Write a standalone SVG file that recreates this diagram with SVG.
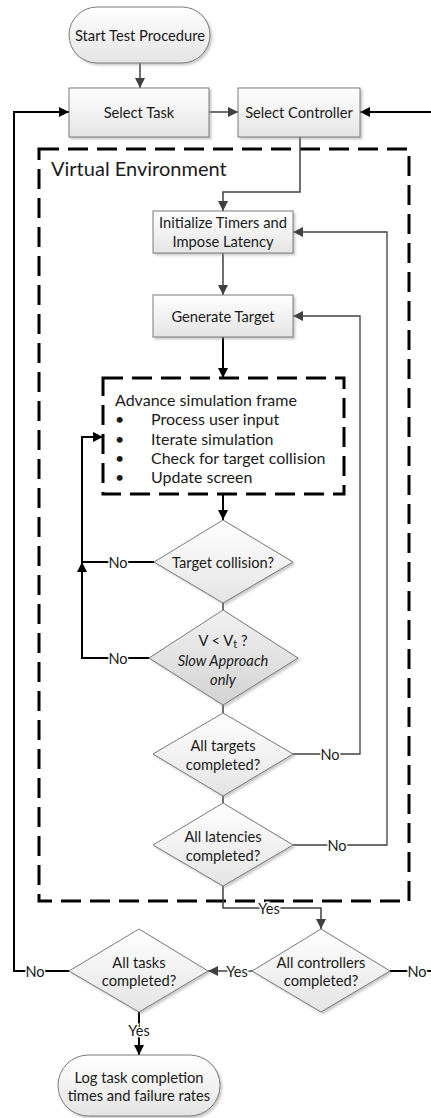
<svg xmlns="http://www.w3.org/2000/svg" width="431" height="1118" viewBox="0 0 431 1118">
  <defs>
    <linearGradient id="nodeFill" x1="0" y1="0" x2="0" y2="1">
      <stop offset="0" stop-color="#ffffff"/>
      <stop offset="1" stop-color="#e4e4e4"/>
    </linearGradient>
    <linearGradient id="nodeFillDark" x1="0" y1="0" x2="0" y2="1">
      <stop offset="0" stop-color="#f2f2f2"/>
      <stop offset="1" stop-color="#d2d2d2"/>
    </linearGradient>
    <filter id="shadow" x="-10%" y="-10%" width="125%" height="130%">
      <feDropShadow dx="2" dy="2" stdDeviation="1" flood-color="#8c8c8c" flood-opacity="0.45"/>
    </filter>
    <marker id="arrowGray" markerUnits="userSpaceOnUse" markerWidth="11" markerHeight="11" refX="10" refY="5" orient="auto">
      <path d="M0,0 L10,5 L0,10 z" fill="#404040"/>
    </marker>
    <marker id="arrowBlack" markerUnits="userSpaceOnUse" markerWidth="11" markerHeight="11" refX="10" refY="5" orient="auto">
      <path d="M0,0 L10,5 L0,10 z" fill="#000000"/>
    </marker>
  </defs>
  <style>
    .node { fill: url(#nodeFill); stroke: #7a7a7a; stroke-width: 1; filter: url(#shadow); }
    .dark { fill: url(#nodeFillDark); }
    .label { font-family: Lato, "Open Sans", sans-serif; font-size: 14.7px; fill: #1a1a1a; text-anchor: middle; dominant-baseline: central; }
    .item { font-family: Lato, "Open Sans", sans-serif; font-size: 16px; fill: #1a1a1a; dominant-baseline: central; }
    .title { font-family: Lato, "Open Sans", sans-serif; font-size: 20px; fill: #1a1a1a; }
    .boundary { fill: none; stroke: #000; stroke-width: 3; stroke-dasharray: 20 9; }
    .wire { fill: none; stroke: #404040; stroke-width: 1.5; }
    .wire-gray { fill: none; stroke: #404040; stroke-width: 1.5; marker-end: url(#arrowGray); }
    .wire-black { fill: none; stroke: #000; stroke-width: 2; marker-end: url(#arrowBlack); }
    .wire-thin { fill: none; stroke: #404040; stroke-width: 1.3; marker-end: url(#arrowGray); }
    .tag { font-family: Lato, "Open Sans", sans-serif; font-size: 14.5px; fill: #1a1a1a; text-anchor: middle; dominant-baseline: central; stroke: #ffffff; stroke-width: 3px; paint-order: stroke; }
  </style>

  <!-- Virtual environment boundary -->
  <g id="virtual-environment">
    <rect class="boundary" x="39" y="149" width="370" height="752"/>
    <text class="title" x="51" y="176">Virtual Environment</text>
  </g>

  <!-- Connectors -->
  <g id="connectors">
    <path class="wire-gray" d="M140,63 V88"/>
    <path class="wire-gray" d="M209,112 H238"/>
    <path class="wire-gray" d="M300,137 V192 H223 V211"/>
    <path class="wire-gray" d="M223,253 V295"/>
    <path class="wire-black" d="M223,337 V378"/>
    <path class="wire-black" d="M223,494 V520"/>
    <path class="wire-black" d="M154,562 H82 V437 H103"/>
    <path class="wire-black" d="M149,658 H82 V562"/>
    <path class="wire" d="M223,603 V610"/>
    <path class="wire" d="M223,705 V713"/>
    <path class="wire" d="M223,796 V803"/>
    <path class="wire-thin" d="M293,754 H360 V316 H293"/>
    <path class="wire-thin" d="M293,845 H387 V232 H293"/>
    <path class="wire-gray" d="M223,886 V908 H321 V929"/>
    <path class="wire-gray" d="M252,971 H208"/>
    <path class="wire-black" d="M390,971 H445 V112 H360"/>
    <path class="wire-black" d="M69,971 H14 V112 H69"/>
    <path class="wire-black" d="M139,1012 V1055"/>
    <text class="tag" x="118" y="562">No</text>
    <text class="tag" x="118" y="658">No</text>
    <text class="tag" x="330" y="754">No</text>
    <text class="tag" x="337" y="845">No</text>
    <text class="tag" x="269" y="908">Yes</text>
    <text class="tag" x="237" y="971">Yes</text>
    <text class="tag" x="417" y="971">No</text>
    <text class="tag" x="35" y="971">No</text>
    <text class="tag" x="139" y="1030">Yes</text>
  </g>

  <g id="start">
    <rect class="node" x="69" y="7" width="141" height="56" rx="28"/>
    <text class="label" x="140" y="35">Start Test Procedure</text>
  </g>

  <g id="select-task">
    <rect class="node" x="69" y="88" width="140" height="49"/>
    <text class="label" x="139" y="112">Select Task</text>
  </g>

  <g id="select-controller">
    <rect class="node" x="238" y="88" width="122" height="49"/>
    <text class="label" x="299" y="112">Select Controller</text>
  </g>

  <g id="initialize">
    <rect class="node" x="153" y="211" width="140" height="42"/>
    <text class="label" x="223" y="222">Initialize Timers and</text>
    <text class="label" x="223" y="241">Impose Latency</text>
  </g>

  <g id="generate-target">
    <rect class="node" x="153" y="295" width="140" height="42"/>
    <text class="label" x="223" y="316">Generate Target</text>
  </g>

  <g id="advance-frame">
    <rect class="boundary" x="103" y="378" width="241" height="116"/>
    <text class="item" x="115" y="399">Advance simulation frame</text>
    <text class="item" x="115" y="418">•</text>
    <text class="item" x="151" y="418">Process user input</text>
    <text class="item" x="115" y="438">•</text>
    <text class="item" x="151" y="438">Iterate simulation</text>
    <text class="item" x="115" y="457">•</text>
    <text class="item" x="151" y="457">Check for target collision</text>
    <text class="item" x="115" y="476">•</text>
    <text class="item" x="151" y="476">Update screen</text>
  </g>

  <g id="target-collision">
    <polygon class="node" points="223,520 293,562 223,603 154,562"/>
    <text class="label" x="223" y="562">Target collision?</text>
  </g>

  <g id="slow-approach">
    <polygon class="node dark" points="223,610 298,658 223,705 149,658"/>
    <text class="label" x="223" y="640">V &lt; V<tspan dy="3" font-size="11">t</tspan><tspan dy="-3"> ?</tspan></text>
    <text class="label" x="223" y="660" font-style="italic">Slow Approach</text>
    <text class="label" x="223" y="679" font-style="italic">only</text>
  </g>

  <g id="all-targets">
    <polygon class="node" points="223,713 293,754 223,796 153,754"/>
    <text class="label" x="223" y="745">All targets</text>
    <text class="label" x="223" y="764">completed?</text>
  </g>

  <g id="all-latencies">
    <polygon class="node" points="223,803 293,845 223,886 153,845"/>
    <text class="label" x="223" y="836">All latencies</text>
    <text class="label" x="223" y="855">completed?</text>
  </g>

  <g id="all-controllers">
    <polygon class="node" points="321,929 390,971 321,1012 252,971"/>
    <text class="label" x="321" y="962">All controllers</text>
    <text class="label" x="321" y="980">completed?</text>
  </g>

  <g id="all-tasks">
    <polygon class="node" points="139,929 208,971 139,1012 69,971"/>
    <text class="label" x="139" y="962">All tasks</text>
    <text class="label" x="139" y="980">completed?</text>
  </g>

  <g id="log-results">
    <rect class="node" x="58" y="1055" width="162" height="61" rx="30.5"/>
    <text class="label" x="139" y="1077">Log task completion</text>
    <text class="label" x="139" y="1095">times and failure rates</text>
  </g>
</svg>
